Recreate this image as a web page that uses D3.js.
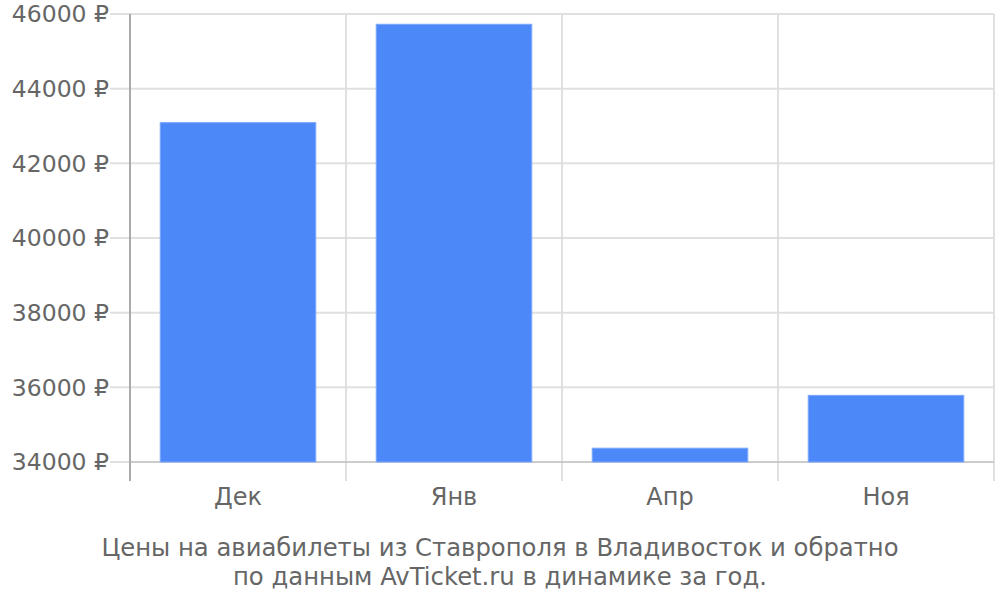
<!DOCTYPE html>
<html><head><meta charset="utf-8">
<script src="https://cdn.jsdelivr.net/npm/d3@7"></script>
<style>body{margin:0;background:#fff}svg{display:block}text{font-family:"DejaVu Sans",sans-serif;fill:#666}</style>
</head><body><svg id="c" width="1000" height="600"></svg>
<script>
const categories = ["Дек","Янв","Апр","Ноя"];
const values = [43090, 45725, 34370, 35785];
const yTicks = [34000,36000,38000,40000,42000,44000,46000];
const titleLines = ["Цены на авиабилеты из Ставрополя в Владивосток и обратно","по данным AvTicket.ru в динамике за год."];

const svg = d3.select("#c");
const L=130,R=994,T=14,B=462;
const x = d3.scaleBand().domain(categories).range([L,R]).padding(0);
const y = d3.scaleLinear().domain([34000,46000]).range([B,T]);

svg.append("g").selectAll("line").data(yTicks).join("line")
  .attr("x1",110).attr("x2",R).attr("y1",d=>y(d)).attr("y2",d=>y(d))
  .attr("stroke","#e0e0e0").attr("stroke-width",2);
svg.append("g").selectAll("line").data(categories).join("line")
  .attr("x1",d=>x(d)+x.bandwidth()).attr("x2",d=>x(d)+x.bandwidth())
  .attr("y1",T).attr("y2",481).attr("stroke","#e0e0e0").attr("stroke-width",2);
svg.append("line").attr("x1",L).attr("x2",R).attr("y1",B).attr("y2",B).attr("stroke","#ccc").attr("stroke-width",2);
const bw = x.bandwidth()*0.72;
svg.append("g").selectAll("rect").data(values).join("rect")
  .attr("x",(d,i)=>x(categories[i])+(x.bandwidth()-bw)/2)
  .attr("width",bw)
  .attr("y",d=>y(d)).attr("height",d=>B-y(d))
  .attr("fill","#4d88f9").attr("stroke","#7ba6fb").attr("stroke-width",1);
svg.append("line").attr("x1",L).attr("x2",L).attr("y1",T).attr("y2",481).attr("stroke","#aaa").attr("stroke-width",2);
svg.append("g").selectAll("text").data(yTicks).join("text")
  .attr("x",109).attr("y",d=>y(d)).attr("dy","0.36em").attr("text-anchor","end")
  .style("font-size","23.5px").text(d=>d+" ₽");
svg.append("g").selectAll("text").data(categories).join("text")
  .attr("x",d=>x(d)+x.bandwidth()/2).attr("y",505).attr("text-anchor","middle")
  .style("font-size","24px").text(d=>d);
svg.append("g").selectAll("text").data(titleLines).join("text")
  .attr("x",500).attr("y",(d,i)=>556+i*29).attr("text-anchor","middle")
  .style("font-size","24.3px").text(d=>d);
</script></body></html>
